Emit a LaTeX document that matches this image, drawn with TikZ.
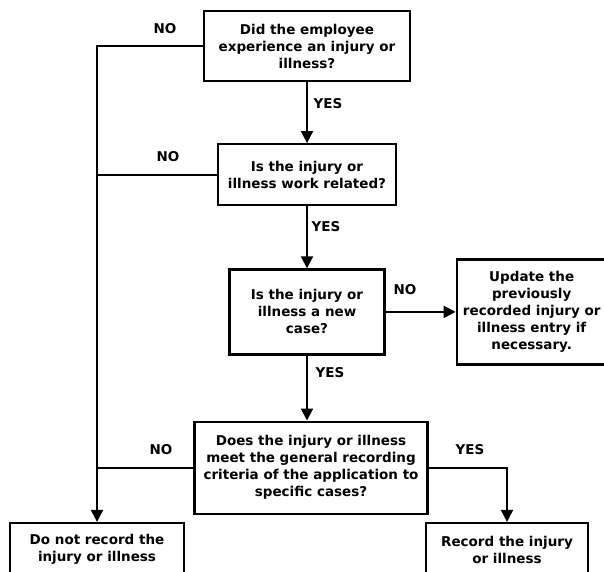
\documentclass[tikz,border=0pt]{standalone}
\usepackage{fontspec}
\setmainfont{DejaVu Sans}
\usepackage{tikz}
\usetikzlibrary{arrows.meta, positioning}

\begin{document}
\begin{tikzpicture}[
    x=1pt, y=-1pt,
    box/.style={rectangle, draw, line width=2.2pt, inner sep=0pt, align=center, font=\bfseries\fontsize{13.5}{17}\selectfont},
    answer/.style={inner sep=0pt, font=\bfseries\fontsize{13.5}{17}\selectfont},
    arrow/.style={line width=2pt, -{Triangle[width=12pt,length=12pt]}},
    joinline/.style={line width=2pt}
]
\useasboundingbox (0,0) rectangle (604,571);

% Questions down the middle
\node[box, minimum width=206pt, minimum height=70pt] (injury) at (307,46) {Did the employee\\experience an injury or\\illness?};
\node[box, minimum width=178pt, minimum height=61pt, below=61pt of injury] (workrel) {Is the injury or\\illness work related?};
\node[box, minimum width=155pt, minimum height=85pt, below=62pt of workrel] (newcase) {Is the injury or\\illness a new\\case?};
\node[box, minimum width=233pt, minimum height=92pt, below=65pt of newcase, xshift=4pt] (criteria) {Does the injury or illness\\meet the general recording\\criteria of the application to\\specific cases?};

% Outcomes
\node[box, minimum width=150pt, minimum height=105pt, right=70pt of newcase] (update) {Update the\\previously\\recorded injury or\\illness entry if\\necessary.};
\node[box, minimum width=174pt, minimum height=53pt] (norecord) at (97,549.5) {Do not record the\\injury or illness};
\node[box, minimum width=162pt, minimum height=53pt] (record) at (507,549.5) {Record the injury\\or illness};

% Answers
\node[answer] (no1) at (165,29) {NO};
\node[answer] (no2) at (168,157) {NO};
\node[answer] (no3) at (405,290) {NO};
\node[answer] (no4) at (161,450) {NO};
\node[answer] (yes1) at (328,104) {YES};
\node[answer] (yes2) at (326,227) {YES};
\node[answer] (yes3) at (330,373) {YES};
\node[answer] (yes4) at (470,450) {YES};

% Connectors
\draw[arrow] (injury) -- (workrel);
\draw[arrow] (workrel) -- (newcase);
\draw[arrow] (newcase.south) -- (newcase.south |- criteria.north);
\draw[arrow] (newcase) -- (update);
\draw[arrow] (criteria.east) -| (record.north);
\draw[arrow] (injury.west) -| (norecord.north);
\draw[joinline] (workrel.west) -- (workrel.west -| norecord.north);
\draw[joinline] (criteria.west) -- (criteria.west -| norecord.north);

\end{tikzpicture}
\end{document}
